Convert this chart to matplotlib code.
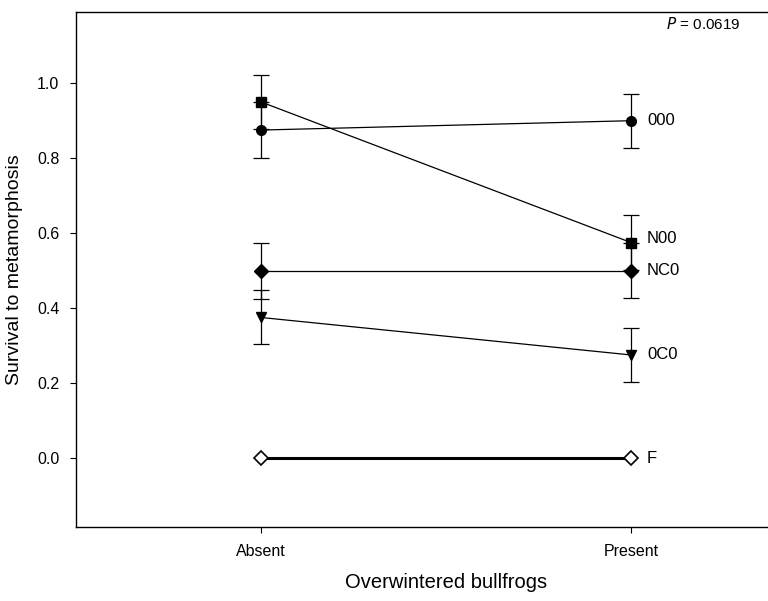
import numpy as np
import matplotlib.pyplot as plt

plt.rcParams['font.family'] = ['Liberation Sans', 'DejaVu Sans']

# categorias del eje x
grupos = ['Absent', 'Present']
xpos = [0, 1]

# supervivencia media y error por tratamiento
etiquetas = ['000', 'N00', 'NC0', '0C0', 'F']
medias = {
    '000': [0.875, 0.90],
    'N00': [0.95, 0.575],
    'NC0': [0.50, 0.50],
    '0C0': [0.375, 0.275],
    'F': [0.0, 0.0],
}
errores = {
    '000': [0.075, 0.072],
    'N00': [0.072, 0.073],
    'NC0': [0.075, 0.073],
    '0C0': [0.072, 0.072],
    'F': [0.0, 0.0],
}
marcadores = {'000': 'o', 'N00': 's', 'NC0': 'D', '0C0': 'v', 'F': 'D'}
texto_y = {'000': 0.9, 'N00': 0.585, 'NC0': 0.5, '0C0': 0.275, 'F': 0.0}

fig = plt.figure(figsize=(7.68, 6.01), dpi=100)
ax = fig.add_axes([76 / 768, 74 / 601, 740 / 768, 515 / 601])

for k in etiquetas:
    if k == 'F':
        ax.plot(xpos, medias[k], color='black', lw=2.2, marker='D', ms=7,
                mfc='white', mec='black', mew=1.2, zorder=3)
    else:
        ax.errorbar(xpos, medias[k], yerr=errores[k], color='black', lw=0.9,
                    marker=marcadores[k], ms=7, mfc='black', mec='black',
                    elinewidth=0.9, capsize=6, capthick=0.9, zorder=3)
    ax.text(1.043, texto_y[k], k, fontsize=12, va='center', ha='left')

ax.text(1.297, 1.158, r'$P$ = 0.0619', fontsize=11, ha='right', va='center')

ax.set_xlim(-0.5, 1.5)
ax.set_ylim(-0.184, 1.19)
ax.set_xticks(xpos)
ax.set_xticklabels(grupos, fontsize=11.5)
ax.set_yticks([0.0, 0.2, 0.4, 0.6, 0.8, 1.0])
ax.set_yticklabels(['0.0', '0.2', '0.4', '0.6', '0.8', '1.0'], fontsize=11.5)
ax.tick_params(direction='out', length=4, width=0.8, pad=8)
ax.set_xlabel('Overwintered bullfrogs', fontsize=14.5, labelpad=10)
ax.set_ylabel('Survival to metamorphosis', fontsize=14, labelpad=10)
for s in ax.spines.values():
    s.set_linewidth(1.0)

fig.savefig('out.png', dpi=100)
